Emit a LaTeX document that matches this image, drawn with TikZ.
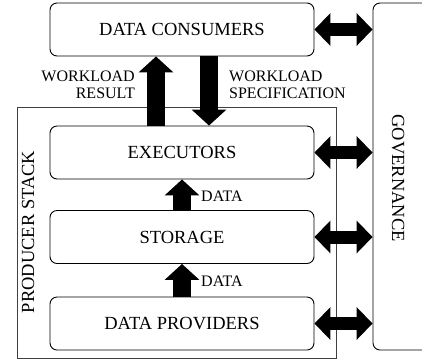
\documentclass[tikz,border=0pt]{standalone}
\usepackage{fontspec}
\setmainfont{Liberation Serif}
\usetikzlibrary{arrows.meta}
\begin{document}
\begin{tikzpicture}[x=1pt,y=-1pt,
  layerbox/.style={draw,line width=0.9pt,rounded corners=7pt,minimum width=264pt,minimum height=53pt,font=\fontsize{18.5}{21}\selectfont,inner sep=0pt},
  lbl/.style={font=\fontsize{16}{17.5}\selectfont,inner sep=0pt},
  bigarrow/.style={line width=18pt,-{Triangle[width=34pt,length=16pt]}},
  dblarrow/.style={line width=13pt,{Triangle[width=32pt,length=16pt]}-{Triangle[width=32pt,length=16pt]}}]
\useasboundingbox (0,0) rectangle (422,360);
\clip (0,0) rectangle (422,360);
% producer stack frame
\node[draw=black!75,line width=1pt,minimum width=319pt,minimum height=251pt,inner sep=0pt] (stack) at (176.5,232.5) {};
\node[rotate=90,font=\fontsize{18.5}{21}\selectfont,inner sep=0pt] (stacklbl) at (28,232) {PRODUCER STACK};
% governance
\node[draw,line width=0.9pt,rounded corners=7pt,minimum width=80pt,minimum height=347pt,inner sep=0pt] (gov) at (413,176.5) {};
\node[rotate=-90,font=\fontsize{18.5}{21}\selectfont,inner sep=0pt] (govlbl) at (398,178) {GOVERNANCE};
% layers
\node[layerbox] (cons) at (182,29.5) {DATA CONSUMERS};
\node[layerbox] (exec) at (182,152.5) {EXECUTORS};
\node[layerbox] (stor) at (182,237) {STORAGE};
\node[layerbox] (prov) at (182,323.5) {DATA PROVIDERS};
% vertical arrows
\draw[bigarrow] ([xshift=-26pt]exec.north) -- ([xshift=-26pt]cons.south);
\draw[bigarrow] ([xshift=27pt]cons.south) -- ([xshift=27pt]exec.north);
\draw[bigarrow] (stor.north) -- (exec.south);
\draw[bigarrow] (prov.north) -- (stor.south);
% labels
\node[lbl,align=right,anchor=east] (wr) at (135,85) {WORKLOAD\\RESULT};
\node[lbl,align=left,anchor=west] (ws) at (229,85) {WORKLOAD\\SPECIFICATION};
\node[lbl,anchor=west] (d1) at (201,196) {DATA};
\node[lbl,anchor=west] (d2) at (201,281) {DATA};
% governance arrows
\draw[dblarrow] (cons.east) -- (cons.east -| gov.west);
\draw[dblarrow] (exec.east) -- (exec.east -| gov.west);
\draw[dblarrow] (stor.east) -- (stor.east -| gov.west);
\draw[dblarrow] (prov.east) -- (prov.east -| gov.west);
\end{tikzpicture}
\end{document}
